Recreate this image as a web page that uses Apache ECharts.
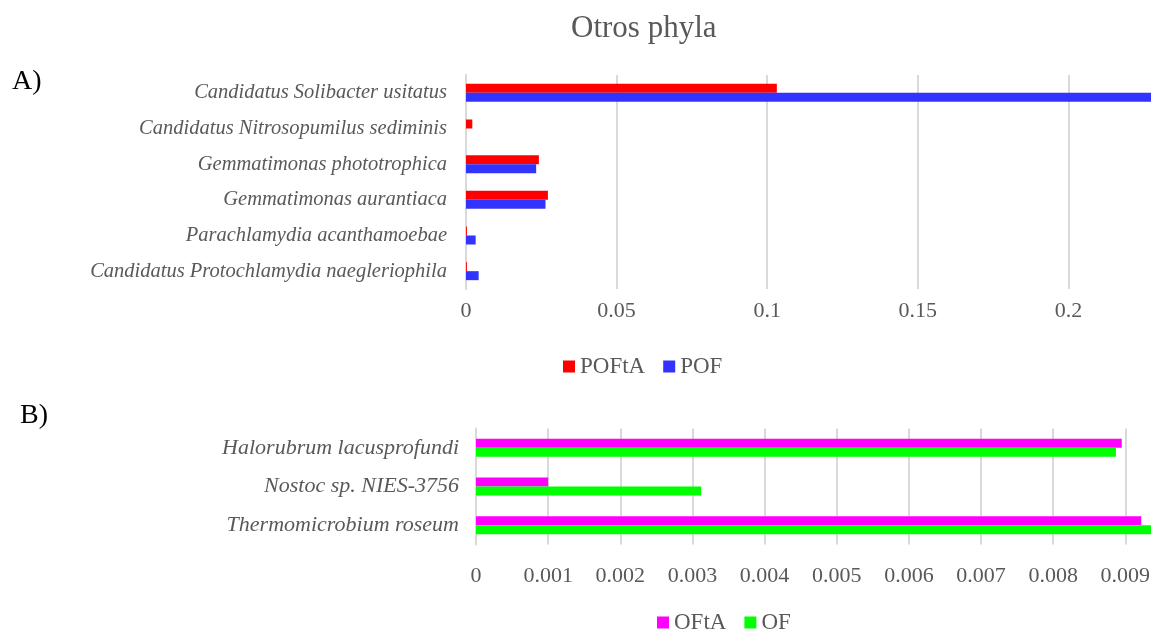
<!DOCTYPE html>
<html>
<head>
<meta charset="utf-8">
<script src="https://cdn.jsdelivr.net/npm/echarts@6/dist/echarts.min.js"></script>
<style>html,body{margin:0;padding:0;background:#fff;}#c{width:1151px;height:630px;}</style>
</head>
<body>
<div id="c"></div>
<script>
// Panel A
const catsA = ['Candidatus Solibacter usitatus','Candidatus Nitrosopumilus sediminis','Gemmatimonas phototrophica','Gemmatimonas aurantiaca','Parachlamydia acanthamoebae','Candidatus Protochlamydia naegleriophila'];
const POFtA = [0.1032, 0.0021, 0.0242, 0.0272, 0.0003, 0.0003];
const POF   = [0.24,   0,      0.0233, 0.0264, 0.0032, 0.0042];
// Panel B
const catsB = ['Halorubrum lacusprofundi','Nostoc sp. NIES-3756','Thermomicrobium roseum'];
const OFtA = [0.00895, 0.0010, 0.00922];
const OF   = [0.00887, 0.00312, 0.0095];

const FONT = 'Liberation Serif';
const GREY = '#595959';
const chart = echarts.init(document.getElementById('c'));
chart.setOption({
  animation:false,
  title:{text:'Otros phyla',left:566,top:8,textStyle:{fontFamily:FONT,fontSize:31,fontWeight:'normal',color:GREY}},
  graphic:[
    {type:'text',left:12,top:68,style:{text:'A)',font:'28px "Liberation Serif"',fill:'#000'}},
    {type:'text',left:20,top:402,style:{text:'B)',font:'28px "Liberation Serif"',fill:'#000'}}
  ],
  legend:[
    {data:['POFtA','POF'],left:558,top:350,icon:'rect',itemWidth:12,itemHeight:12,itemGap:18,
     textStyle:{fontFamily:FONT,fontSize:23,color:GREY}},
    {data:['OFtA','OF'],left:652,top:606,icon:'rect',itemWidth:12,itemHeight:12,itemGap:18,
     textStyle:{fontFamily:FONT,fontSize:23,color:GREY}}
  ],
  grid:[
    {left:466,top:75,height:214,width:753,outerBoundsMode:'none',containLabel:false},
    {left:476,top:428.5,height:116,width:721.5,outerBoundsMode:'none',containLabel:false}
  ],
  xAxis:[
    {type:'value',gridIndex:0,min:0,max:0.25,interval:0.05,
     axisLine:{show:false},axisTick:{show:false},
     axisLabel:{fontFamily:FONT,fontSize:22,color:GREY,margin:11},
     splitLine:{lineStyle:{color:'#d9d9d9',width:2}}},
    {type:'value',gridIndex:1,min:0,max:0.01,interval:0.001,
     axisLine:{show:false},axisTick:{show:false},
     axisLabel:{fontFamily:FONT,fontSize:22,color:GREY,margin:21},
     splitLine:{lineStyle:{color:'#d9d9d9',width:2}}}
  ],
  yAxis:[
    {type:'category',gridIndex:0,data:catsA,inverse:true,
     axisLine:{show:true,lineStyle:{color:'#d9d9d9',width:2}},axisTick:{show:false},
     axisLabel:{fontFamily:FONT,fontStyle:'italic',fontSize:20.5,color:GREY,margin:19}},
    {type:'category',gridIndex:1,data:catsB,inverse:true,
     axisLine:{show:true,lineStyle:{color:'#d9d9d9',width:2}},axisTick:{show:false},
     axisLabel:{fontFamily:FONT,fontStyle:'italic',fontSize:22,color:GREY,margin:17}}
  ],
  series:[
    {name:'POFtA',type:'bar',xAxisIndex:0,yAxisIndex:0,data:POFtA,barWidth:9,barGap:'0%',itemStyle:{color:'#ff0000'}},
    {name:'POF',type:'bar',xAxisIndex:0,yAxisIndex:0,data:POF,barWidth:9,barGap:'0%',itemStyle:{color:'#3333ff'}},
    {name:'OFtA',type:'bar',xAxisIndex:1,yAxisIndex:1,data:OFtA,barWidth:9,barGap:'0%',itemStyle:{color:'#ff00ff'}},
    {name:'OF',type:'bar',xAxisIndex:1,yAxisIndex:1,data:OF,barWidth:9,barGap:'0%',itemStyle:{color:'#00ff00'}}
  ]
});
</script>
</body>
</html>
